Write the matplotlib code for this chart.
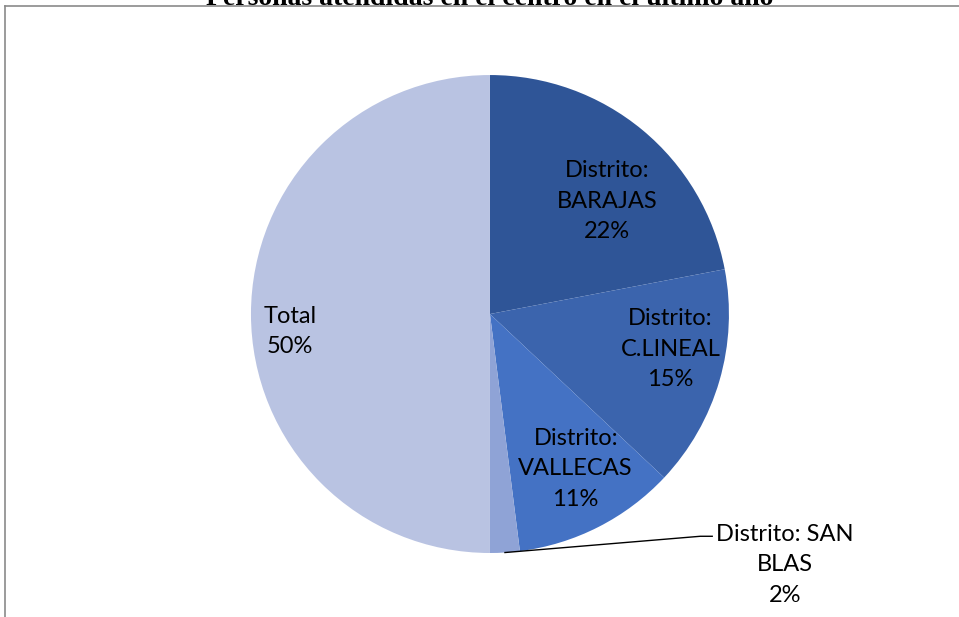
import numpy as np
import matplotlib
matplotlib.use("Agg")
from matplotlib import pyplot as plt
from matplotlib.lines import Line2D

# datos del gráfico
titulo = "Personas atendidas en el centro en el último año"
categorias = ["Distrito:\nBARAJAS", "Distrito:\nC.LINEAL", "Distrito:\nVALLECAS",
              "Distrito: SAN\nBLAS", "Total"]
porcentajes = [22, 15, 11, 2, 50]
colores = ["#2F5597", "#3B64AD", "#4472C4", "#8FA3D6", "#B9C3E2"]

# posicion de cada etiqueta (radio, angulo en grados)
pos_etiquetas = [(0.68, 44), (0.77, -11), (0.74, -61), None, (0.84, 185)]

plt.rcParams['font.family'] = ['Lato', 'DejaVu Sans']

fig = plt.figure(figsize=(9.59, 6.17), dpi=100)
ax = fig.add_axes([0.2617, 0.1037, 0.4984, 0.7747])

wedges, _ = ax.pie(porcentajes, colors=colores, startangle=90, counterclock=False,
                   radius=1, wedgeprops=dict(linewidth=0))
ax.set_xlim(-1, 1)
ax.set_ylim(-1, 1)
ax.set_aspect('equal')
ax.axis('off')

for cat, p, pos in zip(categorias, porcentajes, pos_etiquetas):
    if pos is None:
        continue
    r, ang = pos
    x = r * np.cos(np.radians(ang))
    y = r * np.sin(np.radians(ang))
    ax.text(x, y, "%s\n%d%%" % (cat, p), ha='center', va='center',
            fontsize=17, linespacing=1.55, color='black')

# etiqueta de San Blas fuera del circulo con su linea guia
w = wedges[3]
ang = np.radians((w.theta1 + w.theta2) / 2)
x0, y0 = np.cos(ang), np.sin(ang)
ax.plot([x0, 0.88, 0.93], [y0, -0.93, -0.93], color='black', lw=1, clip_on=False)
ax.text(1.235, -1.05, "%s\n%d%%" % (categorias[3], porcentajes[3]), ha='center',
        va='center', fontsize=17, linespacing=1.55, color='black')

# titulo (queda cortado por el borde superior)
fig.text(0.511, 1 - 5 / 617, titulo, ha='center', va='baseline', fontsize=20,
         fontweight='bold', family=['Liberation Serif', 'DejaVu Serif'])

# borde del area del grafico
fig.add_artist(Line2D([5 / 959, 1], [1 - 6 / 617, 1 - 6 / 617], color='#8a8a8a', lw=1.2))
fig.add_artist(Line2D([5 / 959, 5 / 959], [0, 1 - 6 / 617], color='#8a8a8a', lw=1.2))

fig.savefig("out.png", dpi=100, facecolor='white')
